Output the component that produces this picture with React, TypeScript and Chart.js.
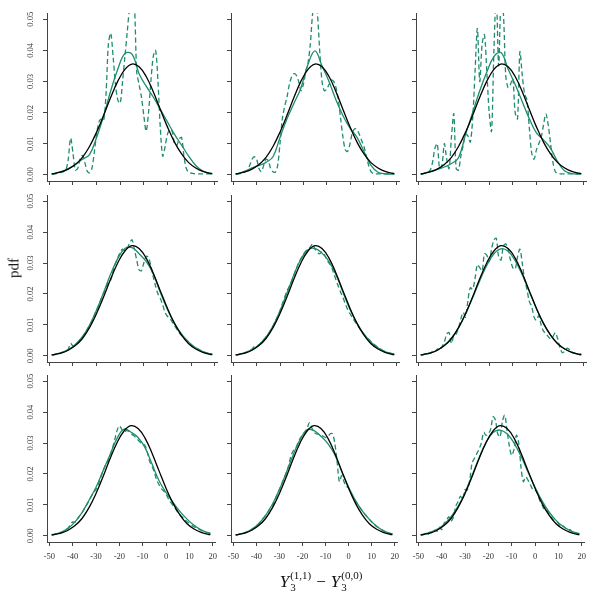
import React, { useEffect, useRef } from "react";
import { Chart, registerables } from "chart.js";

Chart.register(...registerables);

// ---------- data ----------
const xSmooth = [-49, -48, -45, -42, -39, -36, -33, -30, -27, -24, -21, -18, -15, -12, -9, -6, -3, 0, 3, 6, 9, 12, 15, 18, 19];
const xDense = [
  -49,
  -48, -47, -46, -45, -44, -43, -42, -41, -40, -39,
  -38, -37, -36, -35, -34, -33, -32, -31, -30, -29,
  -28, -27, -26, -25, -24, -23, -22, -21, -20, -19,
  -18, -17, -16, -15, -14, -13, -12, -11, -10, -9,
  -8, -7, -6, -5, -4, -3, -2, -1, 0, 1,
  2, 3, 4, 5, 6, 7, 8, 9, 10, 11,
  12, 13, 14, 15, 16, 17, 18,
  19,
];

const xTickValues = [-50, -40, -30, -20, -10, 0, 10, 20];
const xTickLabels = ["-50", "-40", "-30", "-20", "-10", "0", "10", "20"];
const yTickValues = [0, 0.01, 0.02, 0.03, 0.04, 0.05];
const yTickLabels = ["0.00", "0.01", "0.02", "0.03", "0.04", "0.05"];

// black reference density (same in every panel)
const refDensity = [.0003, .0004, .0009, .0018, .0033, .0056, .0091, .0137, .0191, .0249, .0301, .0339, .0356, .0347, .0316, .0267, .0210, .0154, .0105, .0067, .0039, .0022, .0011, .0005, .0004];

// green solid curves
const fit1 = [.0003, .0004, .0010, .0020, .0033, .0050, .0065, .0120, .0190, .0270, .0340, .0390, .0388, .0325, .0285, .0250, .0210, .0170, .0130, .0095, .0060, .0030, .0012, .0004, .0003];
const fit2 = [.0003, .0004, .0012, .0022, .0030, .0040, .0058, .0120, .0180, .0230, .0280, .0355, .0398, .0350, .0300, .0240, .0190, .0150, .0120, .0075, .0030, .0008, .0003, .0002, .0002];
const fit3 = [.0003, .0004, .0010, .0017, .0025, .0036, .0055, .0130, .0200, .0270, .0330, .0380, .0393, .0340, .0290, .0235, .0180, .0135, .0112, .0085, .0042, .0012, .0004, .0002, .0002];
const fit4 = [.0003, .0004, .0010, .0020, .0037, .0062, .0099, .0148, .0205, .0265, .0315, .0347, .0350, .0330, .0305, .0265, .0205, .0150, .0104, .0070, .0044, .0026, .0014, .0007, .0006];
const fit5 = [.0003, .0004, .0010, .0020, .0036, .0060, .0096, .0145, .0203, .0263, .0313, .0343, .0347, .0332, .0305, .0262, .0205, .0150, .0105, .0070, .0044, .0026, .0014, .0007, .0006];
const fit6 = [.0003, .0004, .0009, .0018, .0033, .0056, .0090, .0135, .0188, .0243, .0293, .0330, .0346, .0338, .0308, .0262, .0207, .0152, .0104, .0067, .0040, .0022, .0011, .0005, .0004];
const fit7 = [.0004, .0005, .0011, .0024, .0045, .0075, .0115, .0157, .0210, .0262, .0315, .0345, .0335, .0318, .0285, .0232, .0178, .0140, .0108, .0078, .0054, .0034, .0019, .0010, .0008];
const fit8 = [.0003, .0004, .0010, .0021, .0039, .0066, .0103, .0150, .0205, .0262, .0312, .0343, .0340, .0322, .0298, .0262, .0208, .0157, .0114, .0080, .0053, .0032, .0017, .0008, .0007];
const fit9 = [.0004, .0005, .0011, .0021, .0037, .0061, .0095, .0140, .0195, .0252, .0302, .0334, .0342, .0330, .0300, .0257, .0206, .0157, .0113, .0077, .0050, .0030, .0017, .0009, .0007];

// green dashed curves
const dash1 = [
  .0002,
  .0003, .0004, .0006, .0008, .0010, .0015, .0050, .0118, .0070, .0015,
  .0020, .0050, .0062, .0040, .0012, .0006, .0020, .0070, .0130, .0170,
  .0180, .0175, .0260, .0420, .0455, .0380, .0290, .0240, .0230, .0300,
  .0380, .0460, .0540, .0580, .0550, .0330, .0290, .0250, .0190, .0140,
  .0200, .0300, .0380, .0400, .0300, .0150, .0060, .0090, .0130, .0145,
  .0140, .0100, .0095, .0115, .0120, .0060, .0020, .0008, .0005, .0004,
  .0003, .0003, .0003, .0003, .0003, .0003, .0003,
  .0003,
];
const dash2 = [
  .0002,
  .0003, .0004, .0006, .0010, .0015, .0030, .0050, .0058, .0050, .0020,
  .0010, .0030, .0050, .0045, .0020, .0010, .0008, .0030, .0100, .0180,
  .0220, .0250, .0290, .0315, .0325, .0320, .0300, .0270, .0290, .0330,
  .0360, .0420, .0520, .0560, .0520, .0400, .0300, .0270, .0275, .0290,
  .0305, .0300, .0280, .0240, .0180, .0120, .0080, .0075, .0100, .0135,
  .0148, .0145, .0130, .0110, .0090, .0060, .0030, .0010, .0004, .0003,
  .0003, .0003, .0003, .0003, .0003, .0003, .0003,
  .0003,
];
const dash3 = [
  .0002,
  .0003, .0005, .0008, .0015, .0040, .0085, .0100, .0020, .0030, .0100,
  .0050, .0020, .0120, .0196, .0020, .0015, .0060, .0095, .0130, .0125,
  .0105, .0180, .0330, .0470, .0300, .0420, .0450, .0330, .0200, .0140,
  .0400, .0580, .0350, .0560, .0520, .0320, .0280, .0290, .0310, .0200,
  .0180, .0395, .0320, .0260, .0240, .0150, .0070, .0050, .0080, .0100,
  .0120, .0160, .0196, .0160, .0100, .0040, .0010, .0004, .0003, .0003,
  .0003, .0003, .0003, .0003, .0003, .0003, .0003,
  .0003,
];
const dash4 = [
  .0003,
  .0004, .0005, .0007, .0010, .0013, .0016, .0022, .0040, .0032, .0034,
  .0042, .0052, .0060, .0070, .0085, .0098, .0112, .0130, .0148, .0165,
  .0185, .0203, .0222, .0238, .0245, .0275, .0298, .0318, .0335, .0345,
  .0340, .0348, .0365, .0375, .0345, .0310, .0278, .0275, .0300, .0322,
  .0318, .0290, .0255, .0225, .0200, .0185, .0165, .0140, .0128, .0122,
  .0110, .0098, .0086, .0074, .0066, .0060, .0052, .0045, .0037, .0030,
  .0026, .0022, .0018, .0014, .0011, .0008, .0006,
  .0005,
];
const dash5 = [
  .0003,
  .0004, .0005, .0007, .0010, .0013, .0017, .0022, .0030, .0032, .0036,
  .0043, .0052, .0061, .0071, .0083, .0096, .0112, .0128, .0146, .0168,
  .0190, .0210, .0225, .0240, .0262, .0282, .0300, .0315, .0328, .0338,
  .0345, .0352, .0362, .0345, .0335, .0330, .0336, .0328, .0312, .0300,
  .0290, .0268, .0245, .0225, .0205, .0188, .0168, .0150, .0136, .0124,
  .0112, .0101, .0090, .0080, .0070, .0062, .0054, .0046, .0039, .0033,
  .0027, .0022, .0018, .0014, .0011, .0009, .0007,
  .0006,
];
const dash6 = [
  .0003,
  .0004, .0006, .0010, .0008, .0014, .0012, .0022, .0018, .0030, .0045,
  .0070, .0075, .0040, .0065, .0070, .0090, .0120, .0140, .0125, .0180,
  .0220, .0215, .0250, .0295, .0285, .0275, .0330, .0325, .0305, .0345,
  .0375, .0380, .0320, .0310, .0355, .0362, .0345, .0310, .0285, .0280,
  .0320, .0345, .0300, .0245, .0215, .0175, .0160, .0125, .0115, .0130,
  .0100, .0080, .0072, .0062, .0055, .0062, .0075, .0055, .0025, .0010,
  .0015, .0025, .0020, .0012, .0009, .0007, .0006,
  .0005,
];
const dash7 = [
  .0003,
  .0004, .0006, .0008, .0011, .0014, .0019, .0025, .0035, .0045, .0044,
  .0055, .0065, .0075, .0088, .0100, .0113, .0128, .0140, .0150, .0165,
  .0188, .0210, .0228, .0240, .0258, .0282, .0310, .0340, .0355, .0345,
  .0335, .0340, .0338, .0330, .0325, .0318, .0310, .0302, .0298, .0292,
  .0270, .0240, .0225, .0205, .0180, .0165, .0152, .0145, .0135, .0120,
  .0108, .0098, .0088, .0076, .0068, .0060, .0052, .0046, .0040, .0034,
  .0029, .0028, .0022, .0018, .0014, .0012, .0010,
  .0008,
];
const dash8 = [
  .0003,
  .0004, .0006, .0008, .0010, .0013, .0017, .0021, .0026, .0032, .0039,
  .0048, .0057, .0066, .0076, .0090, .0098, .0112, .0135, .0150, .0168,
  .0186, .0205, .0228, .0258, .0275, .0282, .0300, .0315, .0325, .0335,
  .0348, .0366, .0350, .0335, .0330, .0328, .0325, .0322, .0318, .0320,
  .0330, .0330, .0300, .0240, .0175, .0195, .0175, .0160, .0155, .0140,
  .0125, .0112, .0100, .0090, .0080, .0070, .0062, .0053, .0045, .0038,
  .0031, .0026, .0021, .0017, .0013, .0010, .0008,
  .0007,
];
const dash9 = [
  .0003,
  .0003, .0008, .0004, .0012, .0009, .0018, .0015, .0028, .0020, .0040,
  .0048, .0062, .0048, .0060, .0095, .0110, .0128, .0118, .0150, .0148,
  .0180, .0235, .0250, .0265, .0280, .0300, .0335, .0325, .0330, .0345,
  .0385, .0375, .0330, .0320, .0370, .0390, .0340, .0290, .0260, .0280,
  .0325, .0300, .0220, .0175, .0190, .0180, .0165, .0150, .0148, .0138,
  .0115, .0100, .0085, .0082, .0070, .0060, .0050, .0048, .0040, .0030,
  .0032, .0025, .0018, .0020, .0012, .0010, .0008,
  .0007,
];

const fits = [fit1, fit2, fit3, fit4, fit5, fit6, fit7, fit8, fit9];
const dashes = [dash1, dash2, dash3, dash4, dash5, dash6, dash7, dash8, dash9];

// ---------- style / layout ----------
const SERIF = '"Liberation Serif", "DejaVu Serif", serif';
const GREEN = "#1E8C6E";
const AXIS = "#444";
const TEXT = "#333";
const colLeft = [47, 231, 416];
const colWidth = [170, 168, 170];
const rowTop = [13, 195, 375];
const rowHeight = [168, 167, 167];

const yLabelPlugin = {
  id: "yRotLabels",
  afterDraw(chart: any) {
    const ctx = chart.ctx;
    const ys = chart.scales.y;
    const left = chart.chartArea.left;
    ctx.save();
    ctx.font = `8.5px ${SERIF}`;
    ctx.fillStyle = TEXT;
    ctx.textAlign = "center";
    ctx.textBaseline = "middle";
    yTickValues.forEach((v, i) => {
      const py = ys.getPixelForValue(v);
      ctx.save();
      ctx.translate(left - 16, py);
      ctx.rotate(-Math.PI / 2);
      ctx.fillText(yTickLabels[i], 0, 0);
      ctx.restore();
    });
    ctx.restore();
  },
};

function Panel({ idx }: { idx: number }) {
  const ref = useRef<HTMLCanvasElement | null>(null);
  const r = Math.floor(idx / 3);
  const c = idx % 3;
  const PADL = c === 0 ? 44 : 10;
  const PADT = 4;
  const PADR = 6;
  const PADB = r === 2 ? 28 : 8;
  const W = colWidth[c] + PADL + PADR;
  const H = rowHeight[r] + PADT + PADB;

  useEffect(() => {
    if (!ref.current) return;
    const chart = new Chart(ref.current, {
      type: "line",
      data: {
        datasets: [
          {
            data: xSmooth.map((x, i) => ({ x, y: refDensity[i] })),
            borderColor: "#000",
            borderWidth: 1.3,
            pointRadius: 0,
            tension: 0.4,
            order: 0,
          },
          {
            data: xSmooth.map((x, i) => ({ x, y: fits[idx][i] })),
            borderColor: GREEN,
            borderWidth: 1.3,
            pointRadius: 0,
            tension: 0.4,
            order: 1,
          },
          {
            data: xDense.map((x, i) => ({ x, y: dashes[idx][i] })),
            borderColor: GREEN,
            borderWidth: 1.3,
            borderDash: [5, 3],
            pointRadius: 0,
            tension: 0.3,
            order: 2,
          },
        ],
      },
      options: {
        animation: false,
        responsive: false,
        maintainAspectRatio: false,
        events: [],
        layout: { padding: { top: PADT, right: PADR, left: 0, bottom: 0 } },
        plugins: { legend: { display: false }, tooltip: { enabled: false } },
        scales: {
          x: {
            type: "linear",
            min: -51,
            max: 21,
            afterBuildTicks: (s: any) => {
              s.ticks = xTickValues.map((v) => ({ value: v }));
            },
            afterFit: (s: any) => {
              s.height = PADB;
            },
            grid: { drawOnChartArea: false, drawTicks: true, tickLength: 4, color: AXIS },
            border: { display: true, color: AXIS, width: 1 },
            ticks: {
              display: r === 2,
              autoSkip: false,
              maxRotation: 0,
              minRotation: 0,
              padding: 6,
              color: TEXT,
              font: { family: SERIF, size: 8.5 },
              callback: (_v: any, i: number) => xTickLabels[i],
            },
          },
          y: {
            type: "linear",
            min: -0.002,
            max: 0.052,
            afterBuildTicks: (s: any) => {
              s.ticks = yTickValues.map((v) => ({ value: v }));
            },
            afterFit: (s: any) => {
              s.width = PADL;
            },
            grid: { drawOnChartArea: false, drawTicks: true, tickLength: 4, color: AXIS },
            border: { display: true, color: AXIS, width: 1 },
            ticks: { display: false },
          },
        },
      } as any,
      plugins: c === 0 ? [yLabelPlugin] : [],
    });

    // make the plot area land exactly on the intended box
    const want = { left: PADL, right: W - PADR, top: PADT, bottom: H - PADB };
    const pad = { top: PADT, right: PADR, left: 0, bottom: 0 };
    for (let k = 0; k < 4; k++) {
      const a = chart.chartArea;
      const dR = want.right - a.right;
      const dL = a.left - want.left;
      const dT = a.top - want.top;
      const dB = want.bottom - a.bottom;
      if (Math.abs(dR) < 0.5 && Math.abs(dL) < 0.5 && Math.abs(dT) < 0.5 && Math.abs(dB) < 0.5) break;
      pad.right -= dR;
      pad.left -= dL;
      pad.top -= dT;
      pad.bottom -= dB;
      (chart.config.options as any).layout = { padding: { ...pad } };
      chart.update();
    }
    return () => chart.destroy();
  }, [idx]);

  return (
    <div
      style={{
        position: "absolute",
        left: colLeft[c] - PADL,
        top: rowTop[r] - PADT,
        width: W,
        height: H,
      }}
    >
      <canvas ref={ref} width={W} height={H} style={{ display: "block", width: W, height: H }} />
    </div>
  );
}

function Scripts({ sup, sub }: { sup: string; sub: string }) {
  return (
    <span
      style={{
        display: "inline-flex",
        flexDirection: "column",
        fontStyle: "normal",
        fontSize: 11,
        lineHeight: "12px",
        verticalAlign: 8,
        marginLeft: 1,
      }}
    >
      <span>{sup}</span>
      <span>{sub}</span>
    </span>
  );
}

export default function App() {
  return (
    <div
      style={{
        position: "fixed",
        left: 0,
        top: 0,
        width: 600,
        height: 600,
        background: "#fff",
        overflow: "hidden",
      }}
    >
      {[0, 1, 2, 3, 4, 5, 6, 7, 8].map((i) => (
        <Panel key={i} idx={i} />
      ))}
      <div
        style={{
          position: "absolute",
          left: 14,
          top: 268,
          transform: "translate(-50%, -50%) rotate(-90deg)",
          fontFamily: SERIF,
          fontSize: 15,
          color: "#111",
          whiteSpace: "nowrap",
        }}
      >
        pdf
      </div>
      <div
        style={{
          position: "absolute",
          left: 321,
          top: 569,
          transform: "translateX(-50%)",
          fontFamily: SERIF,
          fontSize: 17,
          lineHeight: "20px",
          color: "#111",
          whiteSpace: "nowrap",
        }}
      >
        <i>Y</i>
        <Scripts sup="(1,1)" sub="3" />
        <span style={{ margin: "0 5px" }}>−</span>
        <i>Y</i>
        <Scripts sup="(0,0)" sub="3" />
      </div>
    </div>
  );
}
